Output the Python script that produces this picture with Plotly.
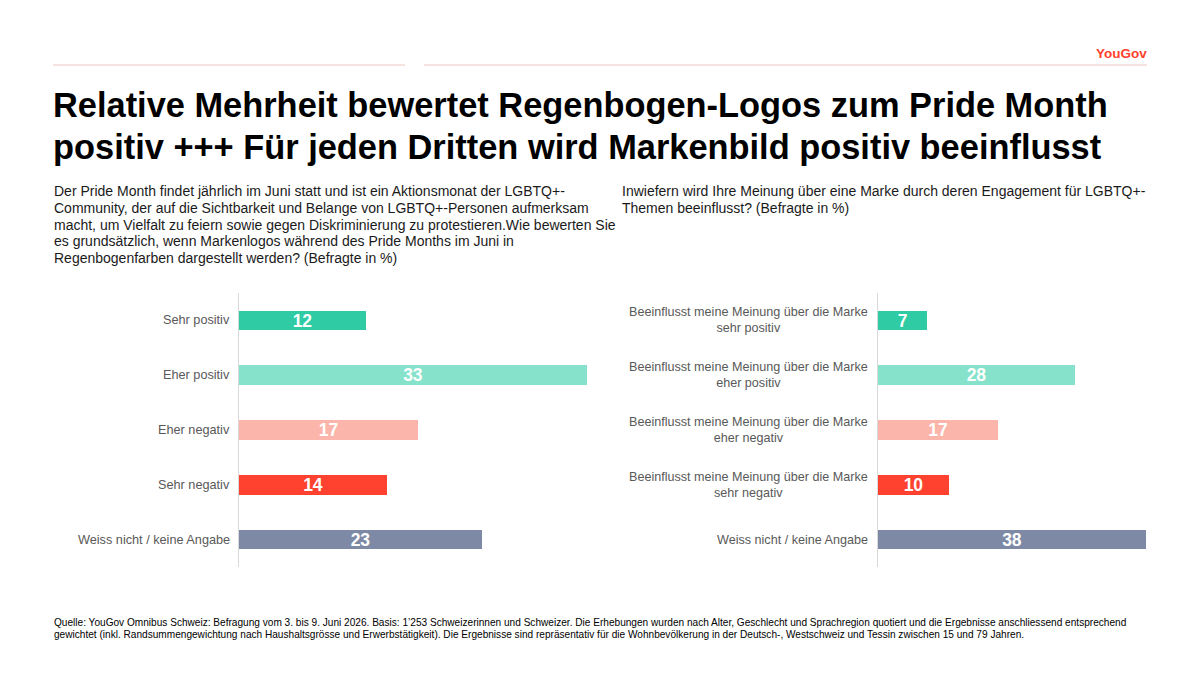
import plotly.graph_objects as go

# ---------------- data ----------------
categories_left = ["Sehr positiv", "Eher positiv", "Eher negativ", "Sehr negativ",
                   "Weiss nicht / keine Angabe"]
values_left = [12, 33, 17, 14, 23]

categories_right = ["Beeinflusst meine Meinung über die Marke<br>sehr positiv",
                    "Beeinflusst meine Meinung über die Marke<br>eher positiv",
                    "Beeinflusst meine Meinung über die Marke<br>eher negativ",
                    "Beeinflusst meine Meinung über die Marke<br>sehr negativ",
                    "Weiss nicht / keine Angabe"]
values_right = [7, 28, 17, 10, 38]

bar_colors = ["#2ECBA5", "#86E2CB", "#FBB5AA", "#FF4130", "#7E8AA5"]

title_lines = ["Relative Mehrheit bewertet Regenbogen-Logos zum Pride Month",
               "positiv +++ Für jeden Dritten wird Markenbild positiv beeinflusst"]
subtitle_left_lines = [
    "Der Pride Month findet jährlich im Juni statt und ist ein Aktionsmonat der LGBTQ+-",
    "Community, der auf die Sichtbarkeit und Belange von LGBTQ+-Personen aufmerksam",
    "macht, um Vielfalt zu feiern sowie gegen Diskriminierung zu protestieren.Wie bewerten Sie",
    "es grundsätzlich, wenn Markenlogos während des Pride Months im Juni in",
    "Regenbogenfarben dargestellt werden? (Befragte in %)"]
subtitle_right_lines = [
    "Inwiefern wird Ihre Meinung über eine Marke durch deren Engagement für LGBTQ+-",
    "Themen beeinflusst? (Befragte in %)"]
footer_lines = [
    "Quelle: YouGov Omnibus Schweiz: Befragung vom 3. bis 9. Juni 2026. Basis: 1’253 Schweizerinnen und Schweizer. "
    "Die Erhebungen wurden nach Alter, Geschlecht und Sprachregion quotiert und die Ergebnisse anschliessend entsprechend",
    "gewichtet (inkl. Randsummengewichtung nach Haushaltsgrösse und Erwerbstätigkeit). Die Ergebnisse sind repräsentativ "
    "für die Wohnbevölkerung in der Deutsch-, Westschweiz und Tessin zwischen 15 und 79 Jahren."]

# ---------------- layout constants ----------------
W, H = 1200, 674
FONT = "Liberation Sans, Arial, sans-serif"

def px(x):
    return x / W

def py(y):
    return 1 - y / H

fig = go.Figure()

bar_common = dict(
    orientation="h",
    marker=dict(color=bar_colors, line=dict(width=0)),
    width=0.36,
    texttemplate="<b>%{x}</b>",
    textposition="inside",
    insidetextanchor="middle",
    textangle=0,
    constraintext="none",
    textfont=dict(color="white", size=17.5, family=FONT),
    hoverinfo="skip",
    showlegend=False,
)

fig.add_trace(go.Bar(x=values_left, y=categories_left, xaxis="x", yaxis="y", **bar_common))
fig.add_trace(go.Bar(x=values_right, y=categories_right, xaxis="x2", yaxis="y2", **bar_common))

ydom = [py(567), py(293)]
axis_y_common = dict(
    type="category", range=[4.5, -0.5], domain=ydom, showline=True,
    linecolor="#D9D9D9", linewidth=1, showticklabels=False, ticks="",
    showgrid=False, zeroline=False, fixedrange=True,
)

fig.update_layout(
    width=W, height=H,
    margin=dict(l=0, r=0, t=0, b=0),
    paper_bgcolor="white", plot_bgcolor="white",
    font=dict(family=FONT),
    xaxis=dict(domain=[px(239), px(239 + 35 * 10.55)], range=[0, 35], visible=False),
    yaxis=dict(anchor="x", **axis_y_common),
    xaxis2=dict(domain=[px(878), px(1146)], range=[0, 38], visible=False),
    yaxis2=dict(anchor="x2", **axis_y_common),
    bargap=0,
)

annotations = []

# category labels
for c in categories_left:
    annotations.append(dict(x=px(232), y=c, xref="paper", yref="y", text=c,
                            xanchor="right", yanchor="middle", showarrow=False,
                            font=dict(size=12.7, color="#595959", family=FONT)))
for c in categories_right:
    annotations.append(dict(x=px(870), y=c, xref="paper", yref="y2", text=c,
                            xanchor="right", yanchor="middle", align="center",
                            showarrow=False,
                            font=dict(size=12.6, color="#595959", family=FONT)))

# title lines
for i, t in enumerate(title_lines):
    annotations.append(dict(x=px(51), y=py(105 + 42 * i), xref="paper", yref="paper",
                            text="<b>" + t + "</b>", xanchor="left", yanchor="middle",
                            showarrow=False, font=dict(size=34.4, color="black", family=FONT)))

# subtitles
for i, t in enumerate(subtitle_left_lines):
    annotations.append(dict(x=px(52), y=py(191 + 16.8 * i), xref="paper", yref="paper", text=t,
                            xanchor="left", yanchor="middle", align="left", showarrow=False,
                            font=dict(size=14, color="#1a1a1a", family=FONT)))
for i, t in enumerate(subtitle_right_lines):
    annotations.append(dict(x=px(620), y=py(191 + 16.8 * i), xref="paper", yref="paper", text=t,
                            xanchor="left", yanchor="middle", align="left", showarrow=False,
                            font=dict(size=14, color="#1a1a1a", family=FONT)))

# footer
for i, t in enumerate(footer_lines):
    annotations.append(dict(x=px(52), y=py(622 + 12 * i), xref="paper", yref="paper", text=t,
                            xanchor="left", yanchor="middle", showarrow=False,
                            font=dict(size=10.1, color="black", family=FONT)))

# logo
annotations.append(dict(x=px(1149), y=py(53), xref="paper", yref="paper", text="<b>YouGov</b>",
                        xanchor="right", yanchor="middle", showarrow=False,
                        font=dict(size=13.5, color="#FF412C", family=FONT)))

fig.update_layout(annotations=annotations)

# header rules
fig.add_shape(type="line", xref="paper", yref="paper", x0=px(53), x1=px(405), y0=py(65), y1=py(65),
              line=dict(color="#EDC6C1", width=1))
fig.add_shape(type="line", xref="paper", yref="paper", x0=px(424), x1=px(1147), y0=py(65), y1=py(65),
              line=dict(color="#EDC6C1", width=1))

fig.write_html("out.html", config={"displayModeBar": False})
